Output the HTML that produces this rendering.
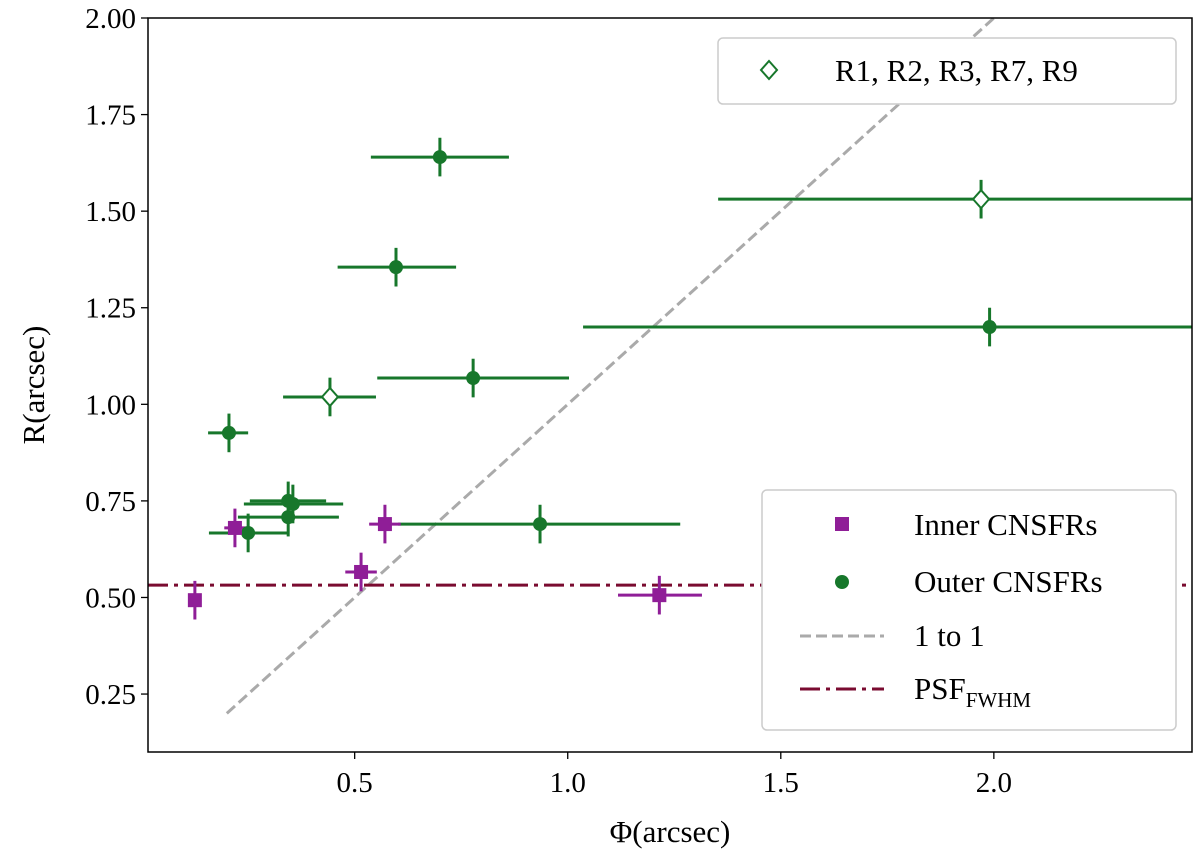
<!DOCTYPE html>
<html><head><meta charset="utf-8"><style>
html,body{margin:0;padding:0;background:#fff;}
svg{display:block;font-family:"Liberation Serif",serif;}
</style></head><body>
<svg id="chart" width="1200" height="866" viewBox="0 0 1200 866" xmlns="http://www.w3.org/2000/svg">
<defs><clipPath id="clip"><rect x="148" y="18" width="1044" height="734"/></clipPath></defs>
<rect x="0" y="0" width="1200" height="866" fill="#fff"/>
<g id="plot" clip-path="url(#clip)"></g>
<g id="axes"></g>
</svg>
<script>
const innerX = [0.125, 0.219, 0.515, 0.571, 1.215];
const innerY = [0.493, 0.680, 0.566, 0.690, 0.506];
const innerXLo = [0.115, 0.194, 0.478, 0.534, 1.118];
const innerXHi = [0.135, 0.244, 0.552, 0.608, 1.315];
const outerX = [0.205, 0.344, 0.355, 0.344, 0.250, 0.935, 0.700, 0.597, 1.990, 0.778];
const outerY = [0.926, 0.750, 0.742, 0.708, 0.667, 0.690, 1.640, 1.355, 1.200, 1.068];
const outerXLo = [0.156, 0.254, 0.240, 0.226, 0.158, 0.602, 0.538, 0.460, 1.036, 0.553];
const outerXHi = [0.250, 0.433, 0.473, 0.463, 0.344, 1.264, 0.862, 0.738, 3.000, 1.003];
const specX = [0.442, 1.970];
const specY = [1.019, 1.531];
const specXLo = [0.332, 1.353];
const specXHi = [0.550, 3.000];
const yErr = 0.05;
const psfValue = 0.532;
const xTicks = [0.5, 1.0, 1.5, 2.0];
const xTickLabels = ["0.5", "1.0", "1.5", "2.0"];
const yTicks = [0.25, 0.5, 0.75, 1.0, 1.25, 1.5, 1.75, 2.0];
const yTickLabels = ["0.25", "0.50", "0.75", "1.00", "1.25", "1.50", "1.75", "2.00"];

const X0=148, X1=1192, Y0=18, Y1=752, XMIN=0.015, XMAX=2.465, YMIN=0.1, YMAX=2.0;
function sx(v){return X0+(v-XMIN)/(XMAX-XMIN)*(X1-X0);}
function sy(v){return Y1-(v-YMIN)/(YMAX-YMIN)*(Y1-Y0);}
const NS="http://www.w3.org/2000/svg";
function mk(parent,tag,attrs){const e=document.createElementNS(NS,tag);for(const k in attrs)e.setAttribute(k,attrs[k]);parent.appendChild(e);return e;}
const plot=document.getElementById('plot'), axes=document.getElementById('axes');
const GREEN="#17772b", PURPLE="#8f1e97";

let l=mk(plot,'line',{x1:sx(0.2),y1:sy(0.2),x2:sx(2.1),y2:sy(2.1),stroke:'#aaaaaa','stroke-width':3,'stroke-dasharray':'11,5'});


l=mk(plot,'line',{x1:X0,y1:sy(psfValue),x2:X1,y2:sy(psfValue),stroke:'#7a0b30','stroke-width':3,'stroke-dasharray':'20,6,4,6'});



function errbars(xs,ys,lo,hi,color,name){
  for(let i=0;i<xs.length;i++){
    const g=mk(plot,'g',{});
    
    
    mk(g,'line',{x1:sx(lo[i]),y1:sy(ys[i]),x2:sx(hi[i]),y2:sy(ys[i]),stroke:color,'stroke-width':3});
    mk(g,'line',{x1:sx(xs[i]),y1:sy(ys[i]-yErr),x2:sx(xs[i]),y2:sy(ys[i]+yErr),stroke:color,'stroke-width':3});
  }
}
errbars(outerX,outerY,outerXLo,outerXHi,GREEN,'outer');
errbars(specX,specY,specXLo,specXHi,GREEN,'special');
errbars(innerX,innerY,innerXLo,innerXHi,PURPLE,'inner');
for(let i=0;i<outerX.length;i++){
  const c=mk(plot,'circle',{cx:sx(outerX[i]),cy:sy(outerY[i]),r:7,fill:GREEN});
  
  
}
for(let i=0;i<specX.length;i++){
  const x=sx(specX[i]),y=sy(specY[i]);
  const d=mk(plot,'polygon',{points:`${x},${y-9} ${x+8},${y} ${x},${y+9} ${x-8},${y}`,fill:'#fff',stroke:GREEN,'stroke-width':2});
  
  
}
for(let i=0;i<innerX.length;i++){
  const r=mk(plot,'rect',{x:sx(innerX[i])-7,y:sy(innerY[i])-7,width:14,height:14,fill:PURPLE});
  
  
}

const fr=mk(axes,'rect',{x:X0,y:Y0,width:X1-X0,height:Y1-Y0,fill:'none',stroke:'#000','stroke-width':1.5});


for(let i=0;i<xTicks.length;i++){
  const x=sx(xTicks[i]);
  mk(axes,'line',{x1:x,y1:Y1,x2:x,y2:Y1+7,stroke:'#000','stroke-width':1.3});
  const t=mk(axes,'text',{x:x,y:Y1+40,'text-anchor':'middle','font-size':29});
  t.textContent=xTickLabels[i];
  
  
}
for(let i=0;i<yTicks.length;i++){
  const y=sy(yTicks[i]);
  mk(axes,'line',{x1:X0-7,y1:y,x2:X0,y2:y,stroke:'#000','stroke-width':1.3});
  const t=mk(axes,'text',{x:X0-12,y:y+10,'text-anchor':'end','font-size':29});
  t.textContent=yTickLabels[i];
  
  
}
let t=mk(axes,'text',{x:sx(1.24),y:842,'text-anchor':'middle','font-size':31});
t.textContent='Φ(arcsec)';


t=mk(axes,'text',{x:0,y:0,'text-anchor':'middle','font-size':31,transform:`translate(44,${sy(1.05)}) rotate(-90)`});
t.textContent='R(arcsec)';



const lg1=mk(axes,'g',{});


mk(lg1,'rect',{x:718,y:38,width:458,height:66,rx:5,fill:'#fff',stroke:'#ccc','stroke-width':1.5});
mk(lg1,'polygon',{points:'769,61 777,70 769,79 761,70',fill:'#fff',stroke:GREEN,'stroke-width':2});
t=mk(lg1,'text',{x:835,y:81,'font-size':31});t.textContent='R1, R2, R3, R7, R9';

const lg2=mk(axes,'g',{});


mk(lg2,'rect',{x:762,y:490,width:414,height:240,rx:5,fill:'#fff',stroke:'#ccc','stroke-width':1.5});
mk(lg2,'rect',{x:835,y:517,width:14,height:14,fill:PURPLE});
t=mk(lg2,'text',{x:914,y:535,'font-size':31});t.textContent='Inner CNSFRs';
mk(lg2,'circle',{cx:842,cy:582,r:7,fill:GREEN});
t=mk(lg2,'text',{x:914,y:592,'font-size':31});t.textContent='Outer CNSFRs';
mk(lg2,'line',{x1:800,y1:636,x2:884,y2:636,stroke:'#aaa','stroke-width':3,'stroke-dasharray':'11,5'});
t=mk(lg2,'text',{x:914,y:646,'font-size':31});t.textContent='1 to 1';
mk(lg2,'line',{x1:800,y1:689,x2:884,y2:689,stroke:'#7a0b30','stroke-width':3,'stroke-dasharray':'20,6,4,6'});
t=mk(lg2,'text',{x:914,y:699,'font-size':31});t.textContent='PSF';
const sub=mk(t,'tspan',{'font-size':21,dy:8});sub.textContent='FWHM';
</script>
</body></html>
